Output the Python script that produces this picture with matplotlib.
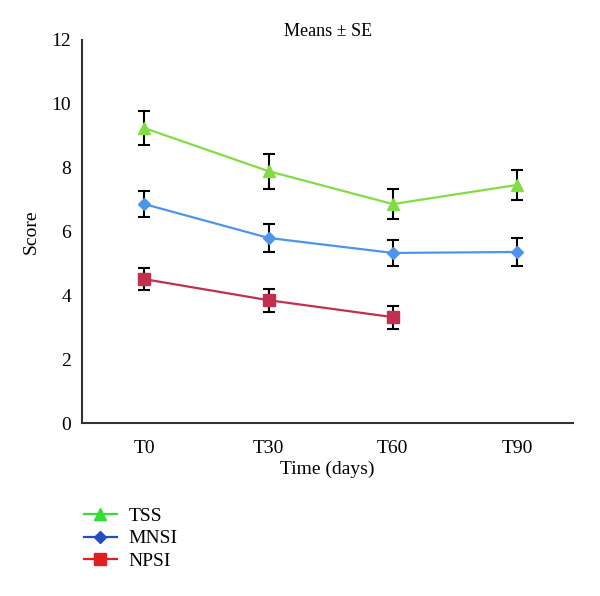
import matplotlib
matplotlib.use("Agg")
import matplotlib.pyplot as plt
from matplotlib.lines import Line2D

# data
times = ["T0", "T30", "T60", "T90"]
tss_mean = [9.24, 7.89, 6.86, 7.46]
tss_se = [0.52, 0.55, 0.47, 0.46]
mnsi_mean = [6.86, 5.80, 5.33, 5.36]
mnsi_se = [0.41, 0.43, 0.42, 0.45]
npsi_mean = [4.51, 3.85, 3.32]
npsi_se = [0.35, 0.36, 0.36]
legend_labels = ["TSS", "MNSI", "NPSI"]

plt.rcParams["font.family"] = ["Liberation Serif", "DejaVu Serif"]

fig = plt.figure(figsize=(6.0, 5.96), dpi=100)
ax = fig.add_axes([0.137, 0.290, 0.818, 0.643])

x = list(range(len(times)))

series = [
    (tss_mean, tss_se, "#82dc44", "^", 9),
    (mnsi_mean, mnsi_se, "#4d94ea", "D", 6.5),
    (npsi_mean, npsi_se, "#c2304f", "s", 8),
]
for mean, se, color, marker, ms in series:
    xs = x[:len(mean)]
    ax.errorbar(xs, mean, yerr=se, fmt="none", ecolor="black",
                elinewidth=1.5, capsize=4, capthick=1.5, zorder=2)
    ax.plot(xs, mean, color=color, linewidth=1.6, marker=marker,
            markersize=ms, zorder=3)

ax.set_xlim(-0.5, 3.45)
ax.set_ylim(0, 12)
ax.set_yticks([0, 2, 4, 6, 8, 10, 12])
ax.set_xticks(x)
ax.set_xticklabels(times)
ax.tick_params(length=0, labelsize=14, pad=8)
ax.tick_params(axis="x", pad=12)
for side in ["top", "right"]:
    ax.spines[side].set_visible(False)
for side in ["left", "bottom"]:
    ax.spines[side].set_color("#333333")
    ax.spines[side].set_linewidth(1.5)

ax.set_title("Means ± SE", fontsize=13, pad=0)
ax.set_xlabel("Time (days)", fontsize=14, labelpad=3)
ax.set_ylabel("Score", fontsize=14, labelpad=8)

# legend uses brighter colours than the plotted lines, as in the original
handles = [
    Line2D([], [], color="#33dd33", marker="^", markersize=8, linewidth=1.6),
    Line2D([], [], color="#1f4fc0", marker="D", markersize=6, linewidth=1.6),
    Line2D([], [], color="#e02020", marker="s", markersize=8, linewidth=1.6),
]
fig.legend(handles, legend_labels, loc="upper left",
           bbox_to_anchor=(0.11, 0.178), frameon=False, fontsize=14,
           handlelength=1.7, labelspacing=0.25, handletextpad=0.6)

fig.savefig("out.png", dpi=100)
